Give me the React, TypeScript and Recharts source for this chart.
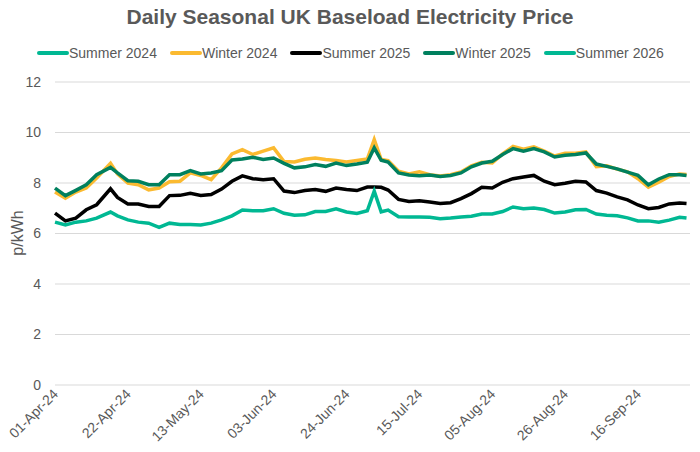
import { LineChart, Line, XAxis, YAxis, CartesianGrid } from "recharts";

// days counted from 01-Apr-24
const DAYS = [
  0, 3, 6, 9, 12, 16, 18, 21, 24, 27, 30, 33, 36, 39, 42, 45, 48, 51, 54, 57, 60,
  63, 66, 69, 72, 75, 78, 81, 84, 87, 90, 92, 94, 96, 99, 102, 105, 108, 111, 114,
  117, 120, 123, 126, 129, 132, 135, 138, 141, 144, 147, 150, 153, 156, 159, 162,
  165, 168, 171, 174, 177, 180, 182,
];

const SUMMER_2024: number[] = [];

const WINTER_2024 = [
  7.64, 7.4, 7.64, 7.8, 8.2, 8.78, 8.36, 8.0, 7.93, 7.73, 7.8, 8.05, 8.07, 8.4, 8.3,
  8.13, 8.6, 9.15, 9.32, 9.13, 9.26, 9.39, 8.85, 8.83, 8.94, 8.99, 8.93, 8.89, 8.83,
  8.89, 8.95, 9.72, 8.93, 8.89, 8.47, 8.36, 8.44, 8.33, 8.28, 8.33, 8.44, 8.68, 8.82,
  8.79, 9.15, 9.45, 9.34, 9.43, 9.26, 9.07, 9.18, 9.18, 9.23, 8.65, 8.68, 8.55, 8.44,
  8.17, 7.83, 8.03, 8.26, 8.36, 8.34,
];

const SUMMER_2025 = [
  6.81, 6.5, 6.61, 6.94, 7.14, 7.77, 7.43, 7.17, 7.17, 7.07, 7.07, 7.5, 7.51, 7.59,
  7.51, 7.54, 7.76, 8.07, 8.28, 8.17, 8.13, 8.17, 7.68, 7.62, 7.7, 7.74, 7.67, 7.8,
  7.74, 7.7, 7.84, 7.84, 7.83, 7.72, 7.35, 7.27, 7.3, 7.25, 7.19, 7.22, 7.38, 7.58,
  7.83, 7.8, 8.03, 8.17, 8.24, 8.3, 8.07, 7.93, 7.99, 8.07, 8.04, 7.7, 7.6, 7.45,
  7.33, 7.13, 6.98, 7.03, 7.17, 7.21, 7.19,
];

const WINTER_2025 = [
  7.8, 7.5, 7.71, 7.93, 8.33, 8.62, 8.4, 8.09, 8.07, 7.93, 7.93, 8.33, 8.33, 8.49,
  8.36, 8.4, 8.49, 8.91, 8.95, 9.02, 8.93, 8.99, 8.78, 8.6, 8.64, 8.73, 8.66, 8.79,
  8.69, 8.75, 8.82, 9.39, 8.9, 8.83, 8.4, 8.32, 8.29, 8.32, 8.26, 8.3, 8.4, 8.64,
  8.79, 8.86, 9.13, 9.36, 9.26, 9.36, 9.23, 9.03, 9.1, 9.13, 9.19, 8.75, 8.66, 8.56,
  8.43, 8.3, 7.93, 8.16, 8.33, 8.33, 8.3,
];

const SUMMER_2026 = [
  6.45, 6.34, 6.45, 6.5, 6.61, 6.85, 6.7, 6.54, 6.45, 6.41, 6.24, 6.41, 6.36, 6.36,
  6.34, 6.41, 6.54, 6.7, 6.93, 6.9, 6.9, 6.98, 6.8, 6.72, 6.74, 6.87, 6.87, 6.98,
  6.85, 6.79, 6.9, 7.68, 6.86, 6.93, 6.66, 6.65, 6.65, 6.64, 6.58, 6.61, 6.65, 6.68,
  6.77, 6.77, 6.87, 7.05, 6.98, 7.01, 6.95, 6.81, 6.85, 6.94, 6.95, 6.77, 6.72, 6.7,
  6.62, 6.5, 6.5, 6.45, 6.53, 6.64, 6.61,
];

const TICK_DAYS = [0, 21, 42, 63, 84, 105, 126, 147, 168];
const TICK_LABELS = [
  "01-Apr-24", "22-Apr-24", "13-May-24", "03-Jun-24", "24-Jun-24",
  "15-Jul-24", "05-Aug-24", "26-Aug-24", "16-Sep-24",
];
const Y_TICKS = [0, 2, 4, 6, 8, 10, 12];

const SERIES = [
  { key: "s24", name: "Summer 2024", color: "#00B893", values: SUMMER_2024 },
  { key: "w24", name: "Winter 2024", color: "#FBBA30", values: WINTER_2024 },
  { key: "s25", name: "Summer 2025", color: "#000000", values: SUMMER_2025 },
  { key: "w25", name: "Winter 2025", color: "#00805E", values: WINTER_2025 },
  { key: "s26", name: "Summer 2026", color: "#00B893", values: SUMMER_2026 },
];

const data = DAYS.map((day, i) => {
  const row: Record<string, number | null> = { day };
  SERIES.forEach((s) => {
    row[s.key] = s.values[i] ?? null;
  });
  return row;
});

const FONT = "'Liberation Sans', Arial, sans-serif";
const GREY = "#595959";

// eslint-disable-next-line @typescript-eslint/no-explicit-any
function DateTick(props: any) {
  const { x, y, payload } = props;
  const label = TICK_LABELS[TICK_DAYS.indexOf(payload.value)];
  const ax = x + 4;
  const ay = y + 10;
  return (
    <text
      x={ax}
      y={ay}
      transform={`rotate(-45 ${ax} ${ay})`}
      textAnchor="end"
      fontSize={14}
      fill={GREY}
      fontFamily={FONT}
    >
      {label}
    </text>
  );
}

export default function App() {
  return (
    <div
      style={{
        position: "relative",
        width: 700,
        height: 452,
        margin: -8,
        background: "#fff",
        fontFamily: FONT,
      }}
    >
      <div
        style={{
          position: "absolute",
          top: 5,
          left: 0,
          width: 700,
          textAlign: "center",
          fontSize: 21,
          fontWeight: "bold",
          color: GREY,
        }}
      >
        Daily Seasonal UK Baseload Electricity Price
      </div>
      <div
        style={{
          position: "absolute",
          top: 45,
          left: 37,
          display: "flex",
          alignItems: "center",
          fontSize: 14,
          lineHeight: "16px",
          color: GREY,
        }}
      >
        {SERIES.map((s) => (
          <div key={s.key} style={{ display: "flex", alignItems: "center", marginRight: 13 }}>
            <span
              style={{
                display: "inline-block",
                width: 32,
                height: 4,
                borderRadius: 2,
                background: s.color,
              }}
            />
            <span>{s.name}</span>
          </div>
        ))}
      </div>
      <LineChart
        width={700}
        height={452}
        data={data}
        margin={{ top: 82, right: 10, bottom: 0, left: 0 }}
      >
        <CartesianGrid vertical={false} stroke="#d9d9d9" />
        <XAxis
          dataKey="day"
          type="number"
          domain={[0, 183]}
          ticks={TICK_DAYS}
          interval={0}
          height={67}
          axisLine={false}
          tickLine={false}
          tickSize={0}
          tickMargin={0}
          tick={<DateTick />}
        />
        <YAxis
          domain={[0, 12]}
          ticks={Y_TICKS}
          width={55}
          axisLine={false}
          tickLine={false}
          tickSize={0}
          tickMargin={14}
          tick={{ fontSize: 14, fill: GREY, fontFamily: FONT }}
          label={() => (
            <text
              x={17}
              y={233}
              transform="rotate(-90 17 233)"
              textAnchor="middle"
              dominantBaseline="central"
              fontSize={16}
              fill={GREY}
              fontFamily={FONT}
            >
              p/kWh
            </text>
          )}
        />
        {SERIES.map((s) => (
          <Line
            key={s.key}
            dataKey={s.key}
            name={s.name}
            stroke={s.color}
            strokeWidth={3.5}
            dot={false}
            type="linear"
            connectNulls
            isAnimationActive={false}
          />
        ))}
      </LineChart>
    </div>
  );
}
